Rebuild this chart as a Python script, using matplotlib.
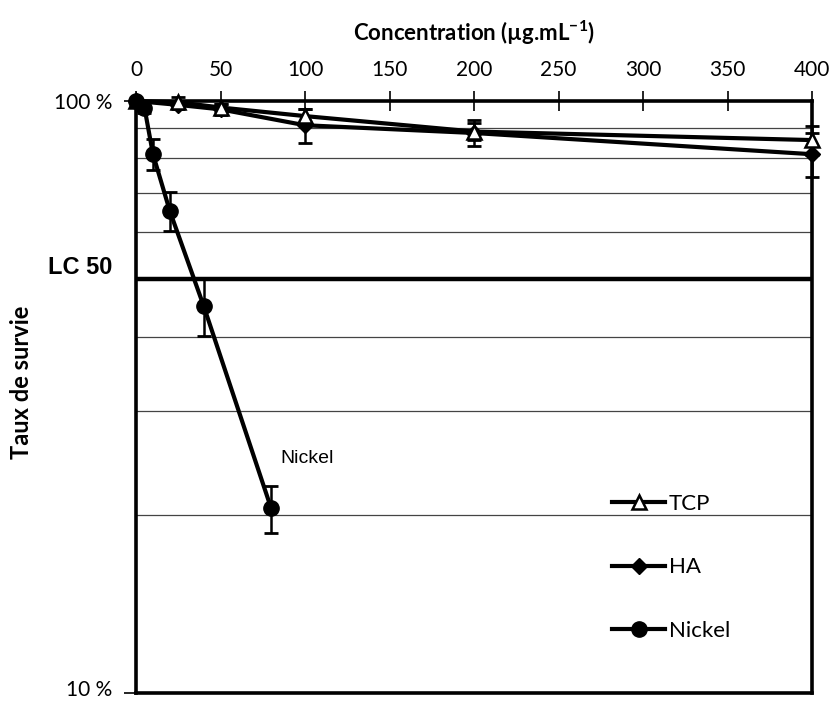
import matplotlib
matplotlib.use("Agg")
import matplotlib.pyplot as plt
from matplotlib.ticker import FixedLocator, NullFormatter
from matplotlib.lines import Line2D
from matplotlib.transforms import ScaledTranslation

# ---- data ----
tcp_x = [0, 25, 50, 100, 200, 400]
tcp_y = [100, 99.5, 97.5, 94.3, 88.8, 85.9]
tcp_err = [0, 2.0, 1.5, 2.5, 3.0, 5.0]

ha_x = [0, 25, 50, 100, 200, 400]
ha_y = [100, 98.5, 96.8, 91.0, 88.3, 81.3]
ha_err = [0, 1.5, 2.0, 6.0, 4.5, 7.0]

ni_x = [0, 5, 10, 20, 40, 80]
ni_y = [100, 97.5, 81.4, 65.2, 45.1, 20.5]
ni_err = [0, 2.0, 5.0, 5.0, 5.0, 1.9]

x_ticks = [0, 50, 100, 150, 200, 250, 300, 350, 400]
grid_levels = [20, 30, 40, 60, 70, 80, 90]
lc50 = 50

W, H = 835, 702
fig = plt.figure(figsize=(W / 100, H / 100), dpi=100)
ax = fig.add_axes([136 / W, 1 - 693 / H, (812 - 136) / W, (693 - 101) / H])

calibri = ["Lato", "DejaVu Sans"]
arial = ["Liberation Sans", "DejaVu Sans"]

ax.set_yscale("log")
ax.set_ylim(10, 100)
ax.set_xlim(0, 400)

# grid
for g in grid_levels:
    ax.axhline(g, color="#444444", lw=0.9, zorder=1)
ax.axhline(lc50, color="black", lw=3.2, zorder=2)

# series
ax.errorbar(tcp_x, tcp_y, yerr=tcp_err, fmt="none", ecolor="black", elinewidth=1.8, capsize=5, capthick=2, zorder=3, clip_on=False)
ax.errorbar(ha_x, ha_y, yerr=ha_err, fmt="none", ecolor="black", elinewidth=1.8, capsize=5, capthick=2, zorder=3, clip_on=False)
ax.errorbar(ni_x, ni_y, yerr=ni_err, fmt="none", ecolor="black", elinewidth=1.8, capsize=5, capthick=2, zorder=3, clip_on=False)

ax.plot(ha_x, ha_y, color="black", lw=3, marker="D", ms=8, mfc="black", mec="black", zorder=4, clip_on=False, label="HA")
ax.plot(tcp_x, tcp_y, color="black", lw=3, marker="^", ms=10, mfc="white", mec="black", mew=1.8, zorder=5, clip_on=False, label="TCP")
ax.plot(ni_x, ni_y, color="black", lw=3, marker="o", ms=11, mfc="black", mec="black", zorder=6, clip_on=False, label="Nickel")

# axes styling
for s in ["left", "bottom", "right", "top"]:
    ax.spines[s].set_linewidth(2.6)
    ax.spines[s].set_color("black")

ax.xaxis.tick_top()
ax.xaxis.set_label_position("top")
ax.set_xticks(x_ticks)
ax.set_xticklabels([str(v) for v in x_ticks], fontfamily=calibri, fontsize=15)
ax.tick_params(axis="x", direction="inout", length=14, width=1.2, pad=8)
ax.set_xlabel("Concentration (µg.mL$^{\\mathregular{-1}}$)", fontfamily=calibri, fontsize=16,
              fontweight="bold", labelpad=14)

ax.yaxis.set_major_locator(FixedLocator([10, 100]))
ax.set_yticklabels(["10 %", "100 %"], fontfamily=calibri, fontsize=15)
ax.yaxis.set_minor_locator(FixedLocator([]))
ax.yaxis.set_minor_formatter(NullFormatter())
ax.tick_params(axis="y", which="major", direction="out", length=9, width=1.2, pad=8)
lab10 = ax.get_yticklabels()[0]
lab10.set_transform(lab10.get_transform() + ScaledTranslation(0, 5 / 100, fig.dpi_scale_trans))

# y-axis title
fig.text(22 / W, 1 - 382 / H, "Taux de survie", fontfamily=calibri, fontsize=17,
         fontweight="bold", rotation=90, ha="center", va="center")

# LC 50 label
fig.text(112 / W, 1 - 268 / H, "LC 50", fontfamily=arial, fontsize=17, fontweight="bold",
         ha="right", va="center")

# Nickel annotation
ax.text(101, 24.9, "Nickel", fontfamily=arial, fontsize=14, ha="center", va="center")

# legend
handles = [
    Line2D([], [], color="black", lw=3, marker="^", ms=10, mfc="white", mec="black", mew=1.8),
    Line2D([], [], color="black", lw=3, marker="D", ms=8, mfc="black", mec="black"),
    Line2D([], [], color="black", lw=3, marker="o", ms=11, mfc="black", mec="black"),
]
leg = fig.legend(handles, ["TCP", "HA", "Nickel"], loc="upper left",
                 bbox_to_anchor=(612 / W, 1 - 494 / H), frameon=False,
                 prop={"family": calibri, "size": 16}, labelspacing=1.95,
                 handlelength=2.4, handletextpad=0.15, borderpad=0, borderaxespad=0)

fig.savefig("out.png", dpi=100)
